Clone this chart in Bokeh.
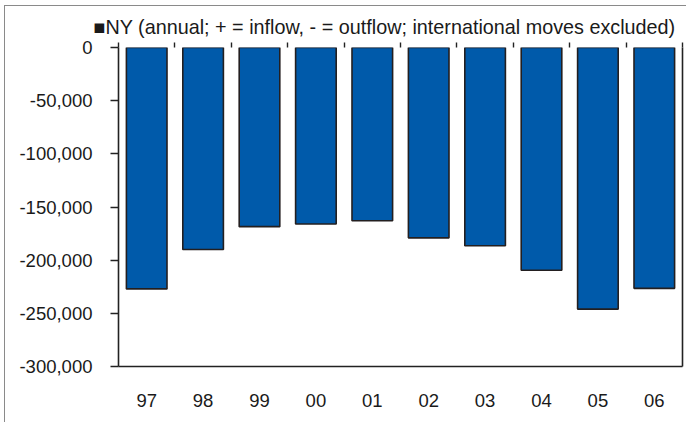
from bokeh.plotting import figure
from bokeh.models import (Range1d, LinearAxis, FixedTicker, NumeralTickFormatter,
                          ColumnDataSource)
from bokeh.embed import file_html
from bokeh.resources import INLINE

# ---- data ----
years = ["97", "98", "99", "00", "01", "02", "03", "04", "05", "06"]
ny_net_migration = [-227000, -190000, -168500, -166000, -163000,
                    -179000, -186500, -209500, -246000, -226500]
y_ticks = [0, -50000, -100000, -150000, -200000, -250000, -300000]
legend_label = "NY (annual; + = inflow, - = outflow; international moves excluded)"

FONT = "Liberation Sans"
TXT = "#1a1a1a"
AX = "#222222"
BAR = "#005AAA"
FS = "18.5px"

xs = list(range(1, len(years) + 1))
src = ColumnDataSource(dict(x=xs, v=ny_net_migration, z=[0] * len(xs)))

p = figure(width=686, height=422, output_backend="svg", toolbar_location=None,
           x_range=Range1d(0.5, len(years) + 0.5), y_range=Range1d(-300000, 0),
           x_axis_location=None, y_axis_location=None,
           min_border_left=118, min_border_right=4, min_border_top=47,
           min_border_bottom=56)
p.outline_line_color = None
p.xgrid.visible = False
p.ygrid.visible = False
p.background_fill_color = "white"
p.border_fill_alpha = 0
# outer chart-area frame lines (left and top), as in the cropped reference
p.styles = {
    "background-color": "white",
    "background-image": "linear-gradient(#8a8a8a, #8a8a8a), linear-gradient(#8a8a8a, #8a8a8a)",
    "background-size": "1px 100%, 100% 1px",
    "background-position": "4px 5px, 4px 5px",
    "background-repeat": "no-repeat",
}

r = p.vbar(x="x", top="z", bottom="v", width=0.72, source=src,
           fill_color=BAR, line_color="#231f20", line_width=1.6)

# legend line, shown as a left-aligned heading above the plot area
p.title.text = "\u25A0" + legend_label
p.title.align = "left"
p.title.offset = -25
p.title.standoff = 9
p.title.text_font = FONT
p.title.text_font_size = "19.8px"
p.title.text_font_style = "normal"
p.title.text_color = TXT

# left value axis
yax = LinearAxis(ticker=FixedTicker(ticks=y_ticks),
                 formatter=NumeralTickFormatter(format="0,0"))
yax.axis_line_color = AX
yax.axis_line_width = 1.6
yax.major_tick_line_color = AX
yax.major_tick_line_width = 1.6
yax.major_tick_in = 0
yax.major_tick_out = 8
yax.minor_tick_line_color = None
yax.major_label_standoff = 18
yax.major_label_text_font = FONT
yax.major_label_text_font_size = FS
yax.major_label_text_color = TXT
p.add_layout(yax, "left")

# bottom axis: category labels, frame bottom line
xax = LinearAxis(ticker=FixedTicker(ticks=xs),
                 major_label_overrides={x: y for x, y in zip(xs, years)})
xax.axis_line_color = AX
xax.axis_line_width = 1.6
xax.major_tick_line_color = None
xax.minor_tick_line_color = None
xax.major_label_standoff = 21
xax.major_label_text_font = FONT
xax.major_label_text_font_size = FS
xax.major_label_text_color = TXT
p.add_layout(xax, "below")

# top axis at zero: tick marks between categories
tax = LinearAxis(ticker=FixedTicker(ticks=[i + 0.5 for i in range(len(years) + 1)]))
tax.axis_line_color = None
tax.major_tick_line_color = AX
tax.major_tick_line_width = 1.4
tax.major_tick_in = 0
tax.major_tick_out = 5
tax.minor_tick_line_color = None
tax.major_label_text_color = None
tax.major_label_text_font_size = "1px"
tax.major_label_standoff = 0
p.add_layout(tax, "above")

# right frame line
rax = LinearAxis(ticker=FixedTicker(ticks=[]))
rax.axis_line_color = AX
rax.axis_line_width = 1.6
rax.major_tick_line_color = None
rax.minor_tick_line_color = None
rax.major_label_text_color = None
rax.major_label_text_font_size = "1px"
p.add_layout(rax, "right")

open("out.html", "w").write(file_html(p, INLINE))
